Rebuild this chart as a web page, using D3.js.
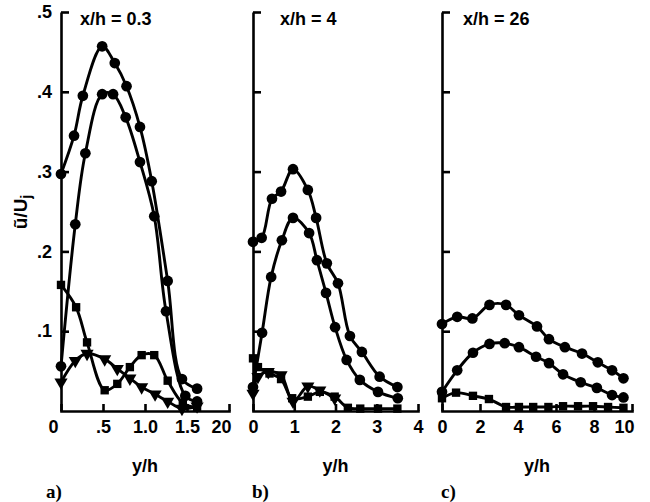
<!DOCTYPE html>
<html lang="en">
<head>
<meta charset="UTF-8">
<title>u/Uj profiles</title>
<script src="https://cdn.jsdelivr.net/npm/d3@7"></script>
<style>
  body { margin: 0; background: #fff; }
  svg { display: block; }
  .axis path, .axis line { stroke: #000; stroke-width: 2.6px; }
  .axis text { font-family: "Liberation Sans", Arial, sans-serif; font-weight: bold; fill: #000; }
  .curve { fill: none; stroke: #000; stroke-width: 2.9px; }
  .lbl { font-family: "Liberation Sans", Arial, sans-serif; font-weight: bold; fill: #000; }
  .tag { font-family: "Liberation Serif", "Times New Roman", serif; font-weight: bold; fill: #000; }
</style>
</head>
<body>
<div id="chart"></div>
<script>
// ---- data: [y/h, u/Uj] ----
// panel a, x/h = 0.3
const aTop = [[0,.297],[.155,.345],[.26,.395],[.49,.457],[.64,.436],[.78,.407],[.94,.356],[1.08,.288],[1.27,.163],[1.44,.04],[1.62,.028]];
const aSecond = [[0,.056],[.17,.234],[.29,.323],[.49,.397],[.62,.397],[.77,.368],[.94,.312],[1.11,.244],[1.25,.125],[1.48,.019],[1.62,.012]];
const aSquare = [[0,.158],[.18,.13],[.31,.086],[.52,.026],[.67,.034],[.82,.055],[.96,.07],[1.11,.07],[1.27,.038],[1.45,.01],[1.62,.004]];
const aTriangle = [[0,.036],[.17,.063],[.31,.072],[.52,.065],[.67,.053],[.82,.041],[.96,.03],[1.12,.021],[1.27,.012],[1.44,.003],[1.62,.006]];
// panel b, x/h = 4
const bTop = [[0,.212],[.21,.217],[.46,.266],[.68,.275],[.97,.303],[1.33,.277],[1.53,.242],[1.79,.185],[2.06,.16],[2.35,.094],[2.64,.074],[3.07,.043],[3.5,.03]];
const bSecond = [[0,.03],[.22,.098],[.44,.168],[.7,.214],[.97,.242],[1.36,.223],[1.55,.189],[1.77,.148],[1.99,.105],[2.27,.064],[2.59,.039],[3.03,.024],[3.51,.016]];
const bSquare = [[0,.066],[.12,.055],[.4,.047],[.68,.04],[.95,.016],[1.33,.018],[1.62,.024],[1.98,.018],[2.3,.004],[2.6,.003],[3.03,.003],[3.5,.003]];
const bTriangle = [[0,.022],[.12,.043],[.37,.049],[.68,.045],[.97,.012],[1.33,.031],[1.62,.026],[1.98,.016]];
// panel c, x/h = 26
const cTop = [[0,.109],[.8,.118],[1.6,.116],[2.5,.133],[3.37,.133],[4.05,.12],[5,.106],[5.63,.09],[6.47,.08],[7.37,.072],[8.2,.061],[8.95,.051],[9.55,.041]];
const cSecond = [[0,.024],[.8,.051],[1.63,.073],[2.5,.084],[3.3,.085],[4.05,.08],[4.95,.068],[5.63,.06],[6.37,.046],[7.3,.036],[8.15,.029],[8.95,.02],[9.55,.017]];
const cSquare = [[0,.016],[.74,.023],[1.63,.019],[2.47,.015],[3.37,.005],[4.05,.005],[4.8,.005],[5.6,.005],[6.37,.006],[7.16,.006],[7.95,.006],[8.74,.005],[9.55,.004]];

// tick labels
const yTicks = [.1, .2, .3, .4, .5];
const yTickLabels = [".1", ".2", ".3", ".4", ".5"];
const aTicks = [0, .5, 1, 1.5, 2], aTickLabels = ["0", ".5", "1.0", "1.5", "20"];
const bTicks = [0, 1, 2, 3, 4], bTickLabels = ["0", "1", "2", "3", "4"];
const cTicks = [0, 2, 4, 6, 8, 10], cTickLabels = ["0", "2", "4", "6", "8", "10"];
const titles = ["x/h = 0.3", "x/h = 4", "x/h = 26"];
const tags = ["a)", "b)", "c)"];

let W = 650, H = 502;
let svg = d3.select("#chart").append("svg").attr("width", W).attr("height", H);

let y = d3.scaleLinear().domain([0, .5]).range([411, 12]);

let panels = [
  { x: d3.scaleLinear().domain([0, 2]).range([61, 229]), ticks: aTicks, labels: aTickLabels,
    series: [[aTop, "circle"], [aSecond, "circle"], [aSquare, "square"], [aTriangle, "triangle"]], titleX: 80, tagX: 46 },
  { x: d3.scaleLinear().domain([0, 4]).range([253, 418]), ticks: bTicks, labels: bTickLabels,
    series: [[bTop, "circle"], [bSecond, "circle"], [bSquare, "square"], [bTriangle, "triangle"]], titleX: 280, tagX: 252 },
  { x: d3.scaleLinear().domain([0, 10]).range([442, 632]), ticks: cTicks, labels: cTickLabels,
    series: [[cTop, "circle"], [cSecond, "circle"], [cSquare, "square"]], titleX: 463, tagX: 441 }
];

let symbols = {
  circle: d3.symbol().type(d3.symbolCircle).size(90),
  square: d3.symbol().type(d3.symbolSquare).size(70),
  triangle: d3.symbol().type(d3.symbolTriangle).size(75)
};

panels.forEach((p, pi) => {
  let g = svg.append("g");
  let x0 = p.x.range()[0];

  // y axis, ticks pointing inward
  let yAxis = d3.axisLeft(y).tickValues(yTicks).tickSizeInner(-8).tickSizeOuter(0).tickPadding(9)
    .tickFormat((d, i) => pi === 0 ? yTickLabels[i] : "");
  g.append("g").attr("class", "axis").attr("transform", "translate(" + x0 + ",0)").call(yAxis)
    .selectAll("text").style("font-size", "18px");

  // x axis
  let xAxis = d3.axisBottom(p.x).tickValues(p.ticks).tickSizeInner(-7).tickSizeOuter(0).tickPadding(9)
    .tickFormat((d, i) => p.labels[i]);
  let xa = g.append("g").attr("class", "axis").attr("transform", "translate(0," + y(0) + ")").call(xAxis);
  xa.selectAll("text").style("font-size", "18px");
  xa.selectAll(".tick text").filter((d, i) => i === p.ticks.length - 1 && pi !== 1)
    .attr("text-anchor", "end").attr("dx", "2");
  if (pi === 0) xa.selectAll(".tick text").filter((d, i) => i === 0).attr("dx", "-8");
  xa.select(".domain").attr("stroke-linecap", "square");

  // curves
  let line = d3.line().curve(d3.curveCatmullRom.alpha(0.5))
    .x(d => p.x(d[0])).y(d => y(d[1]));
  p.series.forEach(([data, shape]) => {
    g.append("path").attr("class", "curve").attr("d", line(data));
    g.selectAll(null).data(data).enter().append("path")
      .attr("d", symbols[shape])
      .attr("transform", d => "translate(" + p.x(d[0]) + "," + y(d[1]) + ")" + (shape === "triangle" ? " rotate(180)" : ""))
      .attr("fill", "#000");
  });

  // labels
  g.append("text").attr("class", "lbl").attr("x", p.titleX).attr("y", 25).style("font-size", "18px").text(titles[pi]);
  g.append("text").attr("class", "lbl").attr("x", (x0 + p.x.range()[1]) / 2).attr("y", 472)
    .attr("text-anchor", "middle").style("font-size", "18px").text("y/h");
  g.append("text").attr("class", "tag").attr("x", p.tagX).attr("y", 498).style("font-size", "19px").text(tags[pi]);
});

// y axis title
let yt = svg.append("text").attr("class", "lbl").attr("transform", "translate(27,212) rotate(-90)")
  .attr("text-anchor", "middle").style("font-size", "19px");
yt.append("tspan").text("ũ/U");
yt.append("tspan").attr("baseline-shift", "-30%").style("font-size", "14px").text("j");
</script>
</body>
</html>
